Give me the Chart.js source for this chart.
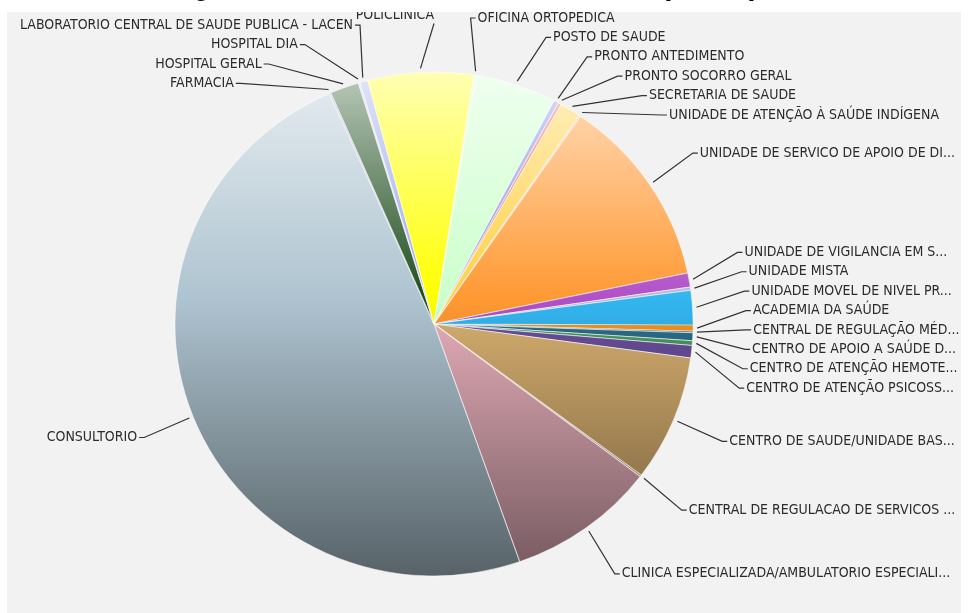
<!DOCTYPE html>
<html>
<head>
<meta charset="utf-8">
<script src="https://cdn.jsdelivr.net/npm/chart.js@4.4.1/dist/chart.umd.min.js"></script>
<style>
  html, body { margin: 0; padding: 0; background: #fff; }
  #chart { display: block; }
</style>
</head>
<body>
<canvas id="chart" width="969" height="613"></canvas>
<script>
const title = 'Quantidade de Estabelecimentos por Tipo'

const categories = [
  'ACADEMIA DA SAÚDE',
  'CENTRAL DE REGULAÇÃO MÉD...',
  'CENTRO DE APOIO A SAÚDE D...',
  'CENTRO DE ATENÇÃO HEMOTE...',
  'CENTRO DE ATENÇÃO PSICOSS...',
  'CENTRO DE SAUDE/UNIDADE BAS...',
  'CENTRAL DE REGULACAO DE SERVICOS ...',
  'CLINICA ESPECIALIZADA/AMBULATORIO ESPECIALI...',
  'CONSULTORIO',
  'FARMACIA',
  'HOSPITAL GERAL',
  'HOSPITAL DIA',
  'LABORATORIO CENTRAL DE SAUDE PUBLICA - LACEN',
  'POLICLINICA',
  'OFICINA ORTOPEDICA',
  'POSTO DE SAUDE',
  'PRONTO ANTEDIMENTO',
  'PRONTO SOCORRO GERAL',
  'SECRETARIA DE SAUDE',
  'UNIDADE DE ATENÇÃO À SAÚDE INDÍGENA',
  'UNIDADE DE SERVICO DE APOIO DE DI...',
  'UNIDADE DE VIGILANCIA EM S...',
  'UNIDADE MISTA',
  'UNIDADE MOVEL DE NIVEL PR...'
]

const values = [4, 1, 5, 3, 8, 81, 1, 93, 488, 1, 18, 1, 5, 66, 1, 51, 3, 2, 13, 1, 122, 9, 2, 22]

const sliceColors = [
  '#f7941e', '#1f5f8b', '#2c6e8a', '#4a9a62', '#6a4f9c', '#d8b070',
  '#a08060', '#e8b0bc', '#aec4d0', '#8080c0', '#1e4d1e', '#b0b0e0',
  '#9aa8e8', '#ffff00', '#e0e0a0', '#ccffcc', '#8090e0', '#f06060',
  '#ffd040', '#ffa060', '#ff9933', '#b050c8', '#b8b8d8', '#33b5f0'
]

// the pie in the picture is a little wider than tall
const SX = 1.018, SY = 0.99

function mix(hex, target, t) {
  const n = parseInt(hex.slice(1), 16)
  const c = [(n >> 16) & 255, (n >> 8) & 255, n & 255]
  return 'rgb(' + c.map(v => Math.round(v + (target - v) * t)).join(',') + ')'
}

// light at the top of the pie, darker towards the bottom
function shade(context) {
  const base = sliceColors[context.dataIndex]
  const area = context.chart.chartArea
  if (!area) return base
  const g = context.chart.ctx.createLinearGradient(0, area.top, 0, area.bottom)
  g.addColorStop(0, mix(base, 255, 0.7))
  g.addColorStop(0.45, base)
  g.addColorStop(1, mix(base, 0, 0.5))
  return g
}

const plotBackground = {
  id: 'plotBackground',
  beforeDraw(chart) {
    const ctx = chart.ctx
    ctx.save()
    ctx.fillStyle = '#fff'
    ctx.fillRect(0, 0, chart.width, chart.height)
    ctx.fillStyle = '#000'
    ctx.font = 'bold 30px "Liberation Sans"'
    ctx.textAlign = 'center'
    ctx.textBaseline = 'alphabetic'
    ctx.fillText(title, 484, -5)
    ctx.fillStyle = '#f2f2f2'
    ctx.fillRect(7, 12, 954, 601)
    ctx.restore()
  },
  beforeDatasetsDraw(chart) {
    const arc = chart.getDatasetMeta(0).data[0]
    const ctx = chart.ctx
    ctx.save()
    ctx.translate(arc.x, arc.y)
    ctx.scale(SX, SY)
    ctx.translate(-arc.x, -arc.y)
  },
  afterDatasetsDraw(chart) {
    chart.ctx.restore()
  }
}

// spread labels of one side so they do not overlap
function spread(list, rowH, minY, maxY) {
  list.sort((p, q) => p.y0 - q.y0)
  let groups = list.map(p => ({ items: [p], sum: p.y0 }))
  let merged = true
  while (merged) {
    merged = false
    groups.forEach(g => {
      const n = g.items.length
      let top = g.sum / n - (n - 1) * rowH / 2
      g.top = Math.max(minY, Math.min(top, maxY - (n - 1) * rowH))
    })
    for (let k = 0; k < groups.length - 1; k++) {
      const g = groups[k], nx = groups[k + 1]
      if (g.top + g.items.length * rowH > nx.top) {
        g.items = g.items.concat(nx.items)
        g.sum += nx.sum
        groups.splice(k + 1, 1)
        merged = true
        break
      }
    }
  }
  groups.forEach(g => g.items.forEach((p, j) => { p.y = g.top + j * rowH }))
}

const outerLabels = {
  id: 'outerLabels',
  afterDatasetsDraw(chart) {
    const ctx = chart.ctx
    const arcs = chart.getDatasetMeta(0).data
    const cx = arcs[0].x, cy = arcs[0].y
    const rx = arcs[0].outerRadius * SX, ry = arcs[0].outerRadius * SY
    const a = rx * 1.232, b = ry * 1.226
    const rowH = 19.4
    const left = [], right = [], fixed = []
    arcs.forEach((arc, i) => {
      const mid = (arc.startAngle + arc.endAngle) / 2
      const item = { i, mid, y0: cy + b * Math.sin(mid), side: Math.cos(mid) < 0 ? -1 : 1 }
      if (Math.abs(Math.cos(mid)) < 0.08) {
        item.y = item.y0
        item.fixed = true
        fixed.push(item)
      } else {
        (item.side < 0 ? left : right).push(item)
      }
    })
    // keep side labels clear of a label sitting right above the pie
    const sideTop = side => fixed.filter(f => f.side === side)
      .reduce((m, f) => Math.max(m, f.y + rowH / 2), 18)
    spread(left, rowH, sideTop(-1), 602)
    spread(right, rowH, sideTop(1), 602)

    ctx.save()
    ctx.beginPath()
    ctx.rect(7, 12, 954, 601)
    ctx.clip()
    ctx.font = '14px "DejaVu Sans Condensed"'
    ctx.fillStyle = '#2b2b2b'
    ctx.strokeStyle = '#333'
    ctx.lineWidth = 1.2
    ctx.textBaseline = 'middle'
    left.concat(right, fixed).forEach(it => {
      const k = Math.max(0, 1 - Math.pow((it.y - cy) / b, 2))
      const lx = it.fixed ? cx : cx + it.side * a * Math.sqrt(k)
      const ax = cx + (rx + 4) * Math.cos(it.mid)
      const ay = cy + (ry + 4) * Math.sin(it.mid)
      ctx.beginPath()
      ctx.moveTo(ax, ay)
      if (it.fixed) {
        ctx.lineTo(lx, it.y + 8)
      } else {
        ctx.lineTo(lx - it.side * 7, it.y)
        ctx.lineTo(lx - it.side * 2, it.y)
      }
      ctx.stroke()
      ctx.textAlign = it.side < 0 ? 'right' : 'left'
      ctx.fillText(categories[it.i], lx, it.y)
    })
    ctx.restore()
  }
}

new Chart(document.getElementById('chart'), {
  type: 'pie',
  data: {
    labels: categories,
    datasets: [{
      data: values,
      backgroundColor: shade,
      borderColor: 'rgba(255,255,255,0.55)',
      borderWidth: 1,
      hoverOffset: 0
    }]
  },
  options: {
    responsive: false,
    animation: false,
    rotation: 90.2,
    layout: { padding: { top: 69, bottom: 34, left: 179, right: 280 } },
    plugins: {
      legend: { display: false },
      tooltip: { enabled: false }
    }
  },
  plugins: [plotBackground, outerLabels]
})
</script>
</body>
</html>
